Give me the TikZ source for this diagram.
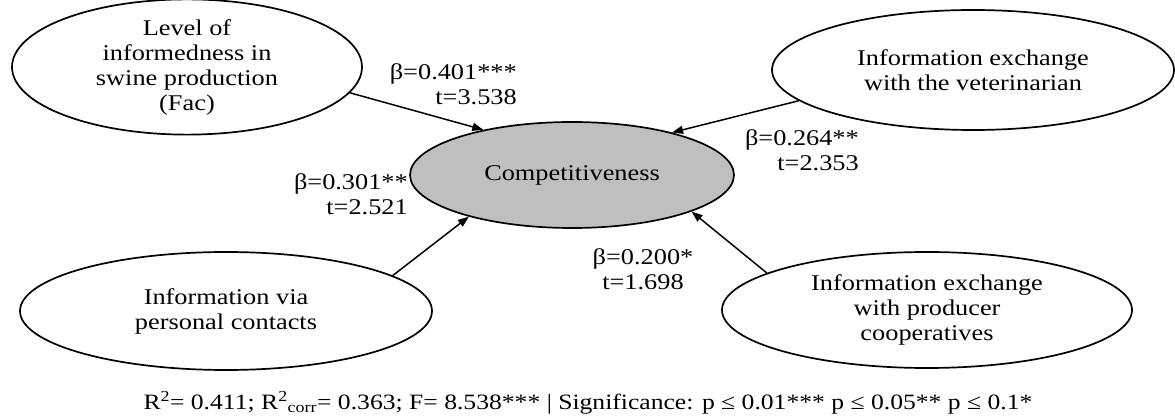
\documentclass[tikz,border=0pt]{standalone}
\usepackage{fontspec}
\setmainfont{Liberation Serif}[FakeStretch=1.17]
\usetikzlibrary{shapes.geometric,arrows.meta}
\tikzset{
  oval/.style={ellipse,draw=black,line width=1.7pt,inner sep=0pt,align=center,
    font=\fontsize{22.5}{25}\selectfont},
  conn/.style={line width=1.5pt,-{Triangle[length=11pt,width=8pt]}},
  lab/.style={inner sep=0pt,font=\fontsize{22.5}{25}\selectfont}
}
\begin{document}
\begin{tikzpicture}[x=1pt,y=-1pt]
\useasboundingbox (0,0) rectangle (1175,419);
\node[oval,minimum width=350pt,minimum height=120pt] (tl) at (187,67)
  {Level of\\informedness in\\swine production\\(Fac)};
\node[oval,minimum width=402pt,minimum height=120pt] (tr) at (973,70)
  {Information exchange\\with the veterinarian};
\node[oval,fill=black!25,minimum width=324pt,minimum height=106pt] (c) at (572,175)
  {Competitiveness};
\node[oval,minimum width=412pt,minimum height=118pt] (bl) at (226,311)
  {Information via\\personal contacts};
\node[oval,minimum width=410pt,minimum height=116pt] (br) at (927,310)
  {Information exchange\\with producer\\cooperatives};
\draw[conn] (tl.-9.75) -- (c.153.2);
\draw[conn] (tr.-170.1) -- (c.23.1);
\draw[conn] (bl.12.2) -- (c.-158.2);
\draw[conn] (br.167.1) -- (c.-17.2);
\node[lab,anchor=east,align=right] (l1) at (517,84.5) {β=0.401***\\t=3.538};
\node[lab,anchor=east,align=right] (l2) at (859,150) {β=0.264**\\t=2.353};
\node[lab,anchor=east,align=right] (l3) at (408,194.5) {β=0.301**\\t=2.521};
\node[lab,align=center] (l4) at (643,269.5) {β=0.200*\\t=1.698};
\node[lab,font=\fontsize{21.9}{25}\selectfont] (note) at (588,403)
  {R\textsuperscript{2}= 0.411; R\textsuperscript{2}\textsubscript{corr}= 0.363; F= 8.538*** | Significance: p ≤ 0.01*** p ≤ 0.05** p ≤ 0.1*};
\end{tikzpicture}
\end{document}
